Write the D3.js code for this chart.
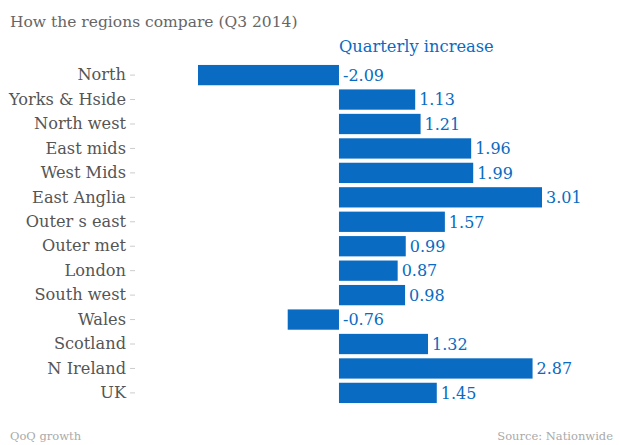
<!DOCTYPE html>
<html><head><meta charset="utf-8">
<script src="https://cdn.jsdelivr.net/npm/d3@7"></script>
<style>body{margin:0;background:#fff}</style>
</head><body>
<svg id="c" width="620" height="445"></svg>
<script>
const categories = ["North","Yorks & Hside","North west","East mids","West Mids","East Anglia","Outer s east","Outer met","London","South west","Wales","Scotland","N Ireland","UK"];
const values = [-2.09,1.13,1.21,1.96,1.99,3.01,1.57,0.99,0.87,0.98,-0.76,1.32,2.87,1.45];
const seriesName = "Quarterly increase";
const title = "How the regions compare (Q3 2014)";
const note = "QoQ growth";
const source = "Source: Nationwide";

const font = "'DejaVu Serif', serif";
const blue = "#0a6bc2";
const svg = d3.select("#c");

const x = d3.scaleLinear().domain([-2.09, 3.01]).range([198, 542]);
const y = d3.scaleBand().domain(categories).range([63, 405]).paddingInner(0.17).paddingOuter(0.08);

svg.append("text").attr("x", 10).attr("y", 27).attr("font-family", font).attr("font-size", 15.5)
  .attr("fill", "#666").text(title);

svg.append("text").attr("x", x(0)).attr("y", 52).attr("font-family", font).attr("font-size", 16.3)
  .attr("fill", blue).text(seriesName);

const yAxis = d3.axisLeft(y).tickSize(5).tickPadding(4);
const ag = svg.append("g").attr("transform", "translate(135,0)").call(yAxis);
ag.select(".domain").remove();
ag.selectAll(".tick line").attr("stroke", "#ccc");
ag.selectAll(".tick text").attr("font-family", font).attr("font-size", 16.2).attr("fill", "#555");

svg.append("g").selectAll("rect").data(values).join("rect")
  .attr("x", d => x(Math.min(0, d)))
  .attr("width", d => Math.abs(x(d) - x(0)))
  .attr("y", (d, i) => y(categories[i]))
  .attr("height", y.bandwidth())
  .attr("fill", blue);

svg.append("g").selectAll("text").data(values).join("text")
  .attr("x", d => (d < 0 ? x(0) : x(d)) + 4)
  .attr("y", (d, i) => y(categories[i]) + y.bandwidth() / 2)
  .attr("dy", "0.36em")
  .attr("font-family", font).attr("font-size", 16).attr("fill", blue)
  .text(d => d.toFixed(2));

svg.append("text").attr("x", 10).attr("y", 440).attr("font-family", font).attr("font-size", 11.5)
  .attr("fill", "#aaa").text(note);
svg.append("text").attr("x", 613).attr("y", 440).attr("text-anchor", "end").attr("font-family", font).attr("font-size", 11.5)
  .attr("fill", "#aaa").text(source);
</script>
</body></html>
